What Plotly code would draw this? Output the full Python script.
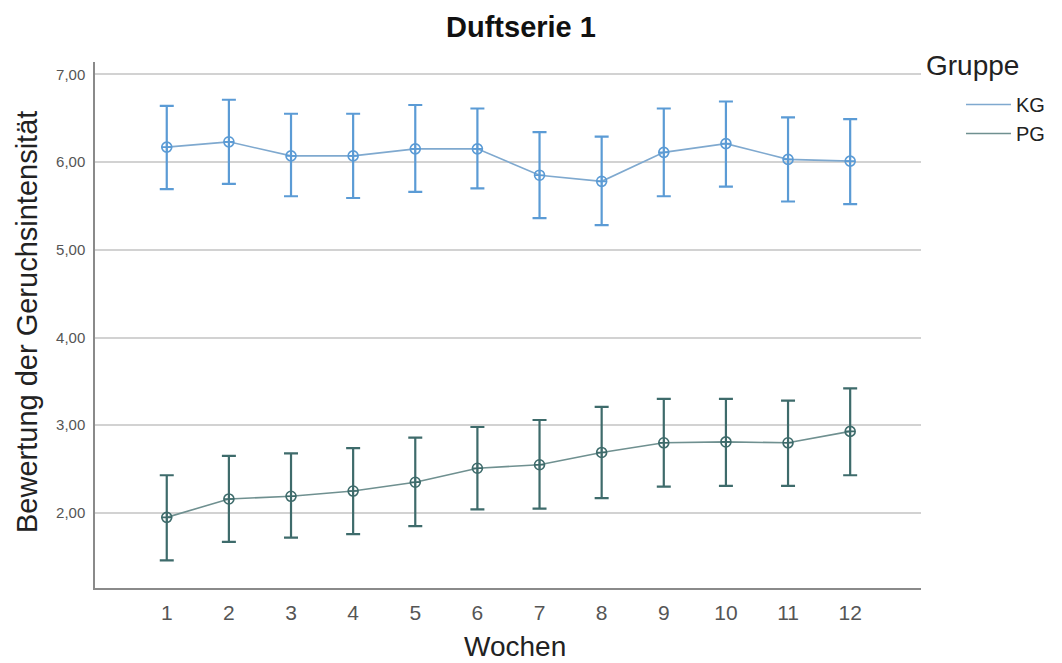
import plotly.graph_objects as go

weeks = [1, 2, 3, 4, 5, 6, 7, 8, 9, 10, 11, 12]

kg_mean = [6.17, 6.23, 6.07, 6.07, 6.15, 6.15, 5.85, 5.78, 6.11, 6.21, 6.03, 6.01]
kg_upper = [6.64, 6.71, 6.55, 6.55, 6.65, 6.61, 6.34, 6.29, 6.61, 6.69, 6.51, 6.49]
kg_lower = [5.69, 5.75, 5.61, 5.59, 5.66, 5.70, 5.36, 5.28, 5.61, 5.72, 5.55, 5.52]

pg_mean = [1.95, 2.16, 2.19, 2.25, 2.35, 2.51, 2.55, 2.69, 2.80, 2.81, 2.80, 2.93]
pg_upper = [2.43, 2.65, 2.68, 2.74, 2.86, 2.98, 3.06, 3.21, 3.30, 3.30, 3.28, 3.42]
pg_lower = [1.46, 1.67, 1.72, 1.76, 1.85, 2.04, 2.05, 2.17, 2.30, 2.31, 2.31, 2.43]

groups = ["KG", "PG"]
y_ticks = [2, 3, 4, 5, 6, 7]

FONT = "Liberation Sans, Arial, sans-serif"
KG_COL = "#5b9bd5"
KG_LINE = "#7fa9cf"
PG_COL = "#3e6b6b"
PG_LINE = "#6f9090"

W, H = 1062, 663
PL, PR, PT, PB = 95, 921, 62, 588  # plot area in pixels
PW, PH = PR - PL, PB - PT

fig = go.Figure()

for name, mean, up, lo, col, lcol in [
    (groups[0], kg_mean, kg_upper, kg_lower, KG_COL, KG_LINE),
    (groups[1], pg_mean, pg_upper, pg_lower, PG_COL, PG_LINE),
]:
    fig.add_trace(go.Scatter(
        x=weeks, y=mean, mode="lines+markers", showlegend=False,
        line=dict(color=lcol, width=1.6),
        marker=dict(symbol="circle-cross-open", size=10, color=col,
                    line=dict(width=1.6, color=col)),
        error_y=dict(type="data", symmetric=False,
                     array=[u - m for u, m in zip(up, mean)],
                     arrayminus=[m - l for m, l in zip(mean, lo)],
                     color=col, thickness=2.2, width=7),
        hoverinfo="skip",
    ))
    fig.add_trace(go.Scatter(
        x=[None], y=[None], mode="lines", name=name,
        line=dict(color=lcol, width=1.6),
    ))

fig.update_layout(
    width=W, height=H,
    margin=dict(l=PL, r=W - PR, t=PT, b=H - PB),
    paper_bgcolor="white", plot_bgcolor="white",
    separators=",.",
    font=dict(family=FONT, color="#222"),
    title=dict(text="<b>Duftserie 1</b>", x=521 / W, xref="container",
               y=1 - 27 / H, yref="container", xanchor="center", yanchor="middle",
               font=dict(size=29, color="#111", family=FONT)),
    xaxis=dict(range=[-0.155, 13.14], tickvals=weeks, showgrid=False,
               showline=True, linecolor="#8a8a8a", linewidth=1.5,
               ticks="outside", ticklen=5, tickcolor="rgba(0,0,0,0)",
               tickfont=dict(size=21, color="#555"), zeroline=False),
    yaxis=dict(range=[1.145, 7.14], tickvals=y_ticks, tickformat=".2f",
               showgrid=True, gridcolor="#d2d2d2", gridwidth=1.5,
               showline=True, linecolor="#8a8a8a", linewidth=1.5,
               ticks="outside", ticklen=5, tickcolor="rgba(0,0,0,0)",
               tickfont=dict(size=15, color="#555"), zeroline=False),
    legend=dict(xref="container", yref="container",
                x=961 / W, xanchor="left", y=1 - 85 / H, yanchor="top",
                font=dict(size=20, color="#222", family=FONT),
                tracegroupgap=0, itemwidth=45, bgcolor="rgba(0,0,0,0)"),
    annotations=[
        dict(text="Gruppe", xref="paper", yref="paper",
             x=(924 - PL) / PW, y=1 - (65 - PT) / PH, xanchor="left", yanchor="middle",
             showarrow=False, font=dict(size=28, color="#222", family=FONT)),
        dict(text="Bewertung der Geruchsintensität", xref="paper", yref="paper",
             x=(27 - PL) / PW, y=1 - (322 - PT) / PH, xanchor="center", yanchor="middle",
             textangle=-90,
             showarrow=False, font=dict(size=29, color="#222", family=FONT)),
        dict(text="Wochen", xref="paper", yref="paper",
             x=(515 - PL) / PW, y=-(646 - PB) / PH, xanchor="center", yanchor="middle",
             showarrow=False, font=dict(size=28, color="#222", family=FONT)),
    ],
)

fig.write_html("out.html", config={"displayModeBar": False},
               post_script="document.body.style.margin='0px';document.body.style.overflow='hidden';")
